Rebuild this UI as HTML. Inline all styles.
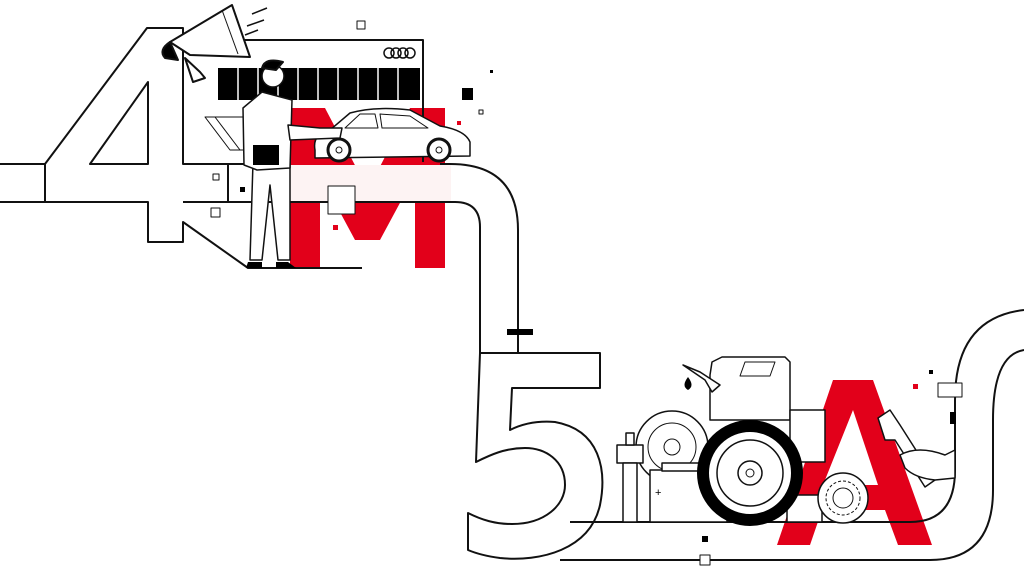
<!DOCTYPE html>
<html><head><meta charset="utf-8"><style>
html,body{margin:0;padding:0;background:#fff;width:1024px;height:576px;overflow:hidden}
svg{display:block}
</style></head><body>
<svg width="1024" height="576" viewBox="0 0 1024 576" xmlns="http://www.w3.org/2000/svg" fill="none" stroke="#111" stroke-width="2" stroke-linejoin="round">
<!-- red M -->
<polygon points="290,108 325,108 368,190 410,108 445,108 445,268 415,268 415,175 380,240 355,240 320,175 320,268 290,268" fill="#e2001a" stroke="none"/>
<rect x="286" y="165" width="165" height="36" fill="#fdf3f3" stroke="none"/>
<!-- building -->
<polyline points="183,40 423,40 423,162"/>
<rect x="218" y="68" width="202" height="32" fill="#000" stroke="none"/>
<g stroke="#fff" stroke-width="1.5"><line x1="238" y1="68" x2="238" y2="100"/><line x1="258" y1="68" x2="258" y2="100"/><line x1="278" y1="68" x2="278" y2="100"/><line x1="298" y1="68" x2="298" y2="100"/><line x1="318" y1="68" x2="318" y2="100"/><line x1="338" y1="68" x2="338" y2="100"/><line x1="358" y1="68" x2="358" y2="100"/><line x1="378" y1="68" x2="378" y2="100"/><line x1="398" y1="68" x2="398" y2="100"/></g>
<g stroke-width="1.5"><circle cx="389" cy="53" r="5"/><circle cx="396" cy="53" r="5"/><circle cx="403" cy="53" r="5"/><circle cx="410" cy="53" r="5"/></g>
<polygon points="205,117 245,117 262,150 230,150" stroke-width="1"/>
<line x1="215" y1="117" x2="240" y2="150" stroke-width="1"/>
<!-- 4 -->
<path d="M0,164 H45 L147,28 H183 V164 H290 M45,164 V202 M0,202 H148 V242 H183 V222 L248,268 H362 M148,82 L90,164 H148 Z"/>
<line x1="228" y1="164" x2="228" y2="202"/>
<path d="M183,202 H455 Q480,202 480,227 V353"/>
<path d="M440,164 H450 Q518,164 518,230 V353"/>
<rect x="507" y="329" width="26" height="6" fill="#000" stroke="none"/>
<!-- megaphone -->
<g fill="#fff"><polygon points="170,42 232,5 250,57 190,55"/><polygon points="185,58 200,72 205,78 193,82"/>
<path d="M170,42 Q158,50 165,58 L178,60 Z" fill="#000"/></g>
<line x1="222" y1="10" x2="238" y2="54" stroke-width="1"/>
<path d="M252,14 L267,8 M247,26 L264,20 M245,35 L258,30" stroke-width="1.5"/>
<!-- car -->
<path d="M315,150 Q312,134 330,130 L350,113 Q375,106 410,110 L440,126 Q465,130 470,142 L470,156 L315,158 Z" fill="#fff" stroke-width="1.5"/>
<path d="M345,128 L360,114 H375 L378,128 Z M380,114 L410,116 L428,128 H382 Z" stroke-width="1"/>
<g fill="#fff"><circle cx="339" cy="150" r="11" stroke-width="3"/><circle cx="439" cy="150" r="11" stroke-width="3"/></g>
<circle cx="339" cy="150" r="3" stroke-width="1"/><circle cx="439" cy="150" r="3" stroke-width="1"/>
<!-- man -->
<g fill="#fff" stroke-width="1.5">
<path d="M253,162 L250,260 H262 L270,185 L278,260 H290 L290,160 Z"/>
<path d="M262,92 L243,108 L244,165 L257,170 L290,168 L292,100 Z"/>
<path d="M288,125 L320,128 L342,128 L340,138 L290,140 Z"/>
<circle cx="273" cy="76" r="11"/>
</g>
<path d="M262,68 Q265,57 283,62 L276,70 Z" fill="#000"/>
<rect x="253" y="145" width="26" height="20" fill="#000" stroke="none"/>
<path d="M248,262 h14 v6 h-16 Z M276,262 h12 l8,6 h-20 Z" fill="#000" stroke="none"/>
<!-- squares -->
<g stroke-width="1"><rect x="357" y="21" width="8" height="8"/><rect x="211" y="208" width="9" height="9"/><rect x="213" y="174" width="6" height="6"/><rect x="479" y="110" width="4" height="4"/><rect x="328" y="186" width="27" height="28" fill="#fff"/></g>
<rect x="462" y="88" width="11" height="12" fill="#000" stroke="none"/>
<rect x="240" y="187" width="5" height="5" fill="#000" stroke="none"/>
<rect x="490" y="70" width="3" height="3" fill="#000" stroke="none"/>
<rect x="457" y="121" width="4" height="4" fill="#e2001a" stroke="none"/>
<rect x="333" y="225" width="5" height="5" fill="#e2001a" stroke="none"/>
<!-- red A -->
<path d="M833,380 H873 L932,545 H898 L885,510 H822 L810,545 H777 Z M853,410 L823,485 H878 Z" fill="#e2001a" fill-rule="evenodd" stroke="none"/>
<!-- 5 -->
<path d="M480,353 H600 V388 H512 L510,430 Q530,420 555,422 C600,430 607,470 600,505 C590,550 540,562 500,558 C485,556 475,553 468,550 V513 C482,520 495,524 512,524 C545,524 565,505 565,485 C565,460 545,448 525,448 C505,448 490,455 476,462 Z"/>
<!-- bottom pipe -->
<path d="M570,522 H910 Q955,522 955,470 V400 Q955,318 1024,310"/>
<path d="M560,560 H930 Q993,560 993,490 V420 Q993,355 1024,350"/>
<rect x="700" y="555" width="10" height="10" fill="#fff" stroke-width="1"/>
<rect x="938" y="383" width="24" height="14" fill="#fff" stroke-width="1"/>
<rect x="950" y="412" width="6" height="12" fill="#000" stroke="none"/>
<rect x="913" y="384" width="5" height="5" fill="#e2001a" stroke="none"/>
<rect x="929" y="370" width="4" height="4" fill="#000" stroke="none"/>
<rect x="848" y="514" width="6" height="6" fill="#000" stroke="none"/>
<rect x="702" y="536" width="6" height="6" fill="#000" stroke="none"/>
<!-- parts -->
<g fill="#fff" stroke-width="1.5">
<path d="M710,375 L712,362 L722,357 H785 L790,362 V420 H710 Z"/>
<path d="M683,365 L705,380 L712,392 L720,385 L700,372 Z"/>
<polygon points="745,362 775,362 770,376 740,376" stroke-width="1"/>
<rect x="790" y="410" width="35" height="52"/>
<circle cx="672" cy="447" r="36"/>
<circle cx="672" cy="447" r="24" stroke-width="1"/>
<circle cx="672" cy="447" r="8" stroke-width="1"/>
<rect x="617" y="445" width="26" height="18"/>
<rect x="623" y="463" width="14" height="59"/>
<rect x="626" y="433" width="8" height="12"/>
<rect x="650" y="470" width="77" height="52"/>
<rect x="662" y="463" width="52" height="8"/>
<rect x="787" y="495" width="35" height="27"/>
<circle cx="843" cy="498" r="25"/>
<circle cx="843" cy="498" r="17" stroke-width="1" stroke-dasharray="3 2"/>
<circle cx="843" cy="498" r="10" stroke-width="1"/>
</g>
<path d="M688,377 q-7,9 0,13 q7,-4 0,-13 Z" fill="#000" stroke="none"/>
<text x="655" y="496" font-family="Liberation Sans, sans-serif" font-size="11" fill="#000" stroke="none">+</text>
<text x="710" y="496" font-family="Liberation Sans, sans-serif" font-size="11" fill="#000" stroke="none">−</text>
<circle cx="750" cy="473" r="47" stroke="#000" stroke-width="12" fill="#fff"/>
<circle cx="750" cy="473" r="33" stroke-width="1.5"/>
<circle cx="750" cy="473" r="12" stroke-width="1.5"/>
<circle cx="750" cy="473" r="4" stroke-width="1"/>
<!-- hand + wrench -->
<g fill="#fff" stroke-width="1.5">
<path d="M878,418 L890,410 L900,425 L935,480 L925,487 L895,440 L885,440 Z"/>
<path d="M900,455 Q918,445 945,455 L955,450 V478 L935,480 Q915,478 905,468 Z"/>
</g>
</svg>
</body></html>
